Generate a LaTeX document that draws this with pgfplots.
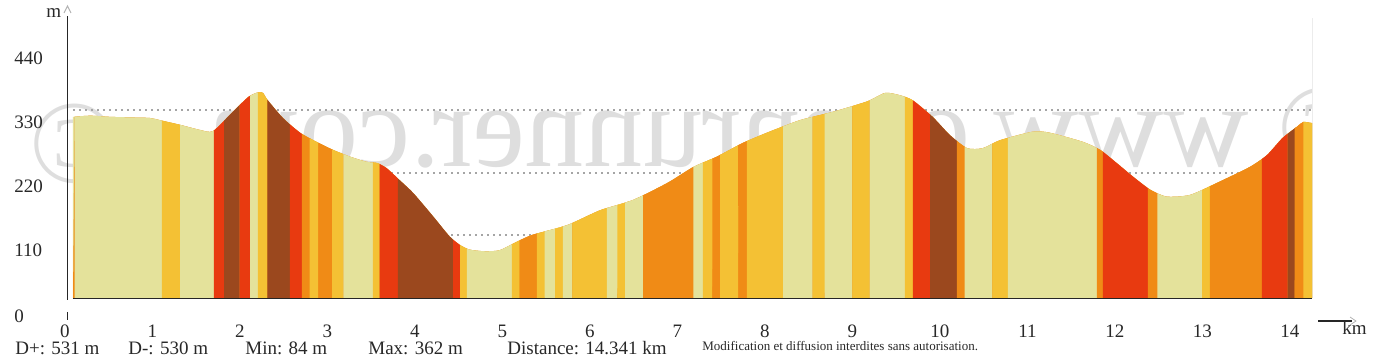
\documentclass[border=0pt]{standalone}
\usepackage{fontspec}
\setmainfont{Liberation Serif}
\usepackage{pgfplots}
\pgfplotsset{compat=1.18}
\usepgfplotslibrary{fillbetween}
\usepackage{pgfplotstable}

\definecolor{cL}{HTML}{E4E29B}
\definecolor{cY}{HTML}{F4C134}
\definecolor{cO}{HTML}{F08B16}
\definecolor{cR}{HTML}{E83A10}
\definecolor{cB}{HTML}{9B481E}
\definecolor{wm}{RGB}{222,222,222}
\definecolor{gridc}{RGB}{165,165,165}
\definecolor{txt}{RGB}{40,40,40}

\pgfplotstableread{
km m
0.00 318
0.20 320
0.43 318
0.66 317
0.89 316
1.01 312
1.24 304
1.47 295
1.62 293
1.85 327
2.03 353
2.14 361
2.20 360
2.25 348
2.43 316
2.63 290
2.82 274
3.01 260
3.21 248
3.40 239
3.52 237
3.63 228
3.78 207
3.94 184
4.17 143
4.36 108
4.48 93
4.59 85
4.77 82
4.94 84
5.14 99
5.32 111
5.72 128
6.10 154
6.48 172
6.88 202
7.18 230
7.45 248
7.75 272
8.03 290
8.41 312
8.80 327
9.19 345
9.40 360
9.57 356
9.72 347
9.95 318
10.15 286
10.35 263
10.53 263
10.73 277
11.11 292
11.31 290
11.69 274
11.89 260
12.08 237
12.27 213
12.47 190
12.66 178
12.93 181
13.24 202
13.62 230
13.82 251
14.00 281
14.17 301
14.24 309
14.341 307
}\prof

\newcommand{\band}[3]{\addplot[fill=#1, draw=none] fill between[of=prof and base, on layer=main, soft clip={domain=#2:#3}];}

\begin{document}
\begin{tikzpicture}
% watermark (behind the profile)
\begin{scope}
\clip (-32.18pt,-20.6pt) rectangle (623.82pt,160.4pt);
\node[xscale=-1, anchor=base west, inner sep=0pt, text=wm, font=\fontsize{59}{59}\selectfont] at (651.82pt,76.9pt) {© www.openrunner.com};
\node[xscale=-1, anchor=base west, inner sep=0pt, text=wm, font=\fontsize{59}{59}\selectfont] at (27.8pt,68.9pt) {©};
\end{scope}
\draw[gray!15, line width=0.5pt] (623.82pt,11.4pt) -- (623.82pt,151.4pt);

\begin{axis}[
  at={(0,0)}, anchor=south west, scale only axis,
  width=623.82pt, height=156.39pt,
  xmin=-0.1, xmax=14.341, ymin=-40, ymax=509,
  clip=false,
  axis line style={draw=none},
  major tick length=0pt,
  tick style={draw=none},
  /pgf/number format/assume math mode=true,
  xtick={-0.0926,0.9201,1.9329,2.9456,3.9583,4.9711,5.9838,6.9965,8.0093,9.0220,10.0347,11.0475,12.0602,13.0729,14.0856},
  xticklabels={0,1,2,3,4,5,6,7,8,9,10,11,12,13,14},
  ytick={-31.6,84.3,196.6,308.9,421.3},
  yticklabels={0,110,220,330,440},
  ticklabel style={font=\fontsize{9.5}{10}\selectfont, text=txt},
  xticklabel style={anchor=center, yshift=-5.1pt},
  yticklabel style={anchor=west, xshift=-25.2pt, inner sep=0pt},
]
% dotted grid lines (behind the profile)
\draw[gridc, line width=1pt, dash pattern=on 1pt off 2pt] (axis cs:0,110) -- (axis cs:14.341,110);
\draw[gridc, line width=1pt, dash pattern=on 1pt off 2pt] (axis cs:0,220) -- (axis cs:14.341,220);
\draw[gridc, line width=1pt, dash pattern=on 1pt off 2pt] (axis cs:0,330) -- (axis cs:14.341,330);

\addplot[name path=prof, draw=none, smooth, tension=0.4] table[x=km, y=m] {\prof};
\addplot[name path=base, draw=none] coordinates {(0,0) (14.341,0)};
\addplot[fill=cL, draw=none] fill between[of=prof and base, on layer=main];

\band{cO}{0}{0.02}
\band{cL}{0.02}{1.03}
\band{cY}{1.03}{1.24}
\band{cL}{1.24}{1.63}
\band{cR}{1.63}{1.75}
\band{cB}{1.75}{1.93}
\band{cR}{1.93}{2.05}
\band{cL}{2.05}{2.14}
\band{cY}{2.14}{2.25}
\band{cB}{2.25}{2.51}
\band{cR}{2.51}{2.65}
\band{cO}{2.65}{2.74}
\band{cY}{2.74}{2.84}
\band{cO}{2.84}{3.00}
\band{cY}{3.00}{3.13}
\band{cL}{3.13}{3.47}
\band{cY}{3.47}{3.55}
\band{cR}{3.55}{3.76}
\band{cB}{3.76}{4.40}
\band{cR}{4.40}{4.48}
\band{cY}{4.48}{4.56}
\band{cL}{4.56}{5.08}
\band{cY}{5.08}{5.17}
\band{cO}{5.17}{5.37}
\band{cY}{5.37}{5.46}
\band{cL}{5.46}{5.58}
\band{cY}{5.58}{5.67}
\band{cL}{5.67}{5.78}
\band{cY}{5.78}{6.18}
\band{cL}{6.18}{6.30}
\band{cY}{6.30}{6.39}
\band{cL}{6.39}{6.60}
\band{cO}{6.60}{7.18}
\band{cL}{7.18}{7.29}
\band{cY}{7.29}{7.40}
\band{cO}{7.40}{7.49}
\band{cY}{7.49}{7.70}
\band{cO}{7.70}{7.80}
\band{cY}{7.80}{8.22}
\band{cL}{8.22}{8.56}
\band{cY}{8.56}{8.70}
\band{cL}{8.70}{9.02}
\band{cY}{9.02}{9.22}
\band{cL}{9.22}{9.63}
\band{cY}{9.63}{9.72}
\band{cR}{9.72}{9.92}
\band{cB}{9.92}{10.23}
\band{cO}{10.23}{10.32}
\band{cL}{10.32}{10.64}
\band{cY}{10.64}{10.82}
\band{cL}{10.82}{11.85}
\band{cO}{11.85}{11.92}
\band{cR}{11.92}{12.44}
\band{cO}{12.44}{12.55}
\band{cL}{12.55}{13.07}
\band{cY}{13.07}{13.16}
\band{cO}{13.16}{13.76}
\band{cR}{13.76}{14.06}
\band{cB}{14.06}{14.14}
\band{cO}{14.14}{14.24}
\band{cY}{14.24}{14.341}

% baseline
\draw[black!85, line width=0.8pt] (axis cs:0,-1) -- (axis cs:14.341,-1);
\end{axis}

% y axis line with chevron
\draw[black!85, line width=0.75pt] (1.57pt,10.4pt) -- (1.57pt,152.4pt);
\draw[gray!60, line width=0.5pt] (-0.18pt,153.9pt) -- (1.57pt,157.4pt) -- (3.32pt,153.9pt);
\draw[black!85, line width=0.6pt] (1.57pt,4.4pt) -- (1.57pt,0.4pt);
\node[anchor=base west, inner sep=0pt, text=txt, font=\fontsize{9.5}{10}\selectfont] at (-9.18pt,151.4pt) {m};

% km arrow
\draw[black!85, line width=0.6pt] (626.82pt,-0.1pt) -- (643.82pt,-0.1pt);
\draw[gray!60, line width=0.4pt] (642.82pt,1.9pt) -- (645.82pt,-0.1pt) -- (642.82pt,-2.1pt);
\node[anchor=base west, inner sep=0pt, text=txt, font=\fontsize{9.5}{10}\selectfont] at (638.82pt,-7.1pt) {km};

% stats row
\begin{scope}[every node/.style={anchor=base west, inner sep=0pt, text=txt, font=\fontsize{9.5}{10}\selectfont}]
\node at (-24.68pt,-17.1pt) {D+: 531 m};
\node at (31.82pt,-17.1pt) {D-: 530 m};
\node at (90.32pt,-17.1pt) {Min: 84 m};
\node at (151.82pt,-17.1pt) {Max: 362 m};
\node at (221.32pt,-17.1pt) {Distance: 14.341 km};
\end{scope}
\node[anchor=base west, inner sep=0pt, text=txt, font=\fontsize{6.5}{7.5}\selectfont] at (318.82pt,-15.1pt) {Modification et diffusion interdites sans autorisation.};

\pgfresetboundingbox
\path[use as bounding box] (-32.18pt,-20.6pt) rectangle (654.32pt,160.4pt);
\end{tikzpicture}
\end{document}
